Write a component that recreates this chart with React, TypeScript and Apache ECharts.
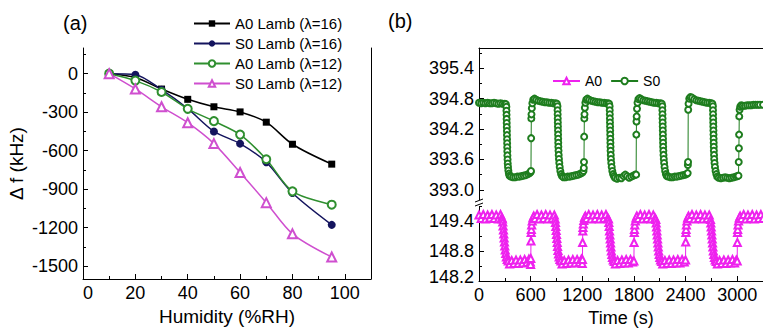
import React, { useEffect, useRef } from "react";
import * as echarts from "echarts";

// ---------- Panel (a) data ----------
const humidity = [10, 20, 30, 40, 50, 60, 70, 80, 95];
const a0Lamb16 = [0, -30, -120, -200, -258, -298, -378, -550, -705];
const s0Lamb16 = [0, -8, -125, -272, -450, -545, -690, -930, -1178];
const a0Lamb12 = [0, -54, -143, -274, -370, -475, -667, -917, -1021];
const s0Lamb12 = [0, -119, -258, -382, -545, -770, -1005, -1248, -1429];
const humidityTicks = [0, 20, 40, 60, 80, 100];
const humidityMinor = [10, 30, 50, 70, 90];
const dfTicks = [-1500, -1200, -900, -600, -300, 0];
const dfMinor = [-1350, -1050, -750, -450, -150, 150];

// ---------- Panel (b) data ----------
const timeTicks = [0, 600, 1200, 1800, 2400, 3000];
const timeMinor = [300, 900, 1500, 2100, 2700, 3300];
const upperTicks = [393.0, 393.6, 394.2, 394.8, 395.4];
const upperMinor = [393.3, 393.9, 394.5, 395.1, 395.7];
const lowerTicks = [148.2, 148.8, 149.4];
const lowerMinor = [148.5, 149.1, 149.7];

// A0 response (lower, magenta)
const a0Response: [number, number][] = [
  [0,149.52],[25,149.45],[50,149.53],[75,149.44],[100,149.52],[125,149.46],[150,149.53],[175,149.45],[200,149.52],[225,149.44],[250,149.53],[265,149.47],
  [272,149.44],[276,149.38],[280,149.3],[284,149.22],[288,149.14],[292,149.06],[296,148.98],[300,148.9],[305,148.82],[311,148.75],[318,148.68],[328,148.63],[340,148.6],
  [355,148.54],[380,148.61],[405,148.55],[430,148.62],[455,148.55],[480,148.62],[505,148.56],[530,148.63],[555,148.57],[580,148.64],[596,148.58],
  [600,148.53],[602,148.65],[604,149.0],[606,149.17],[608,149.23],[612,149.32],[618,149.4],[626,149.46],[636,149.5],
  [650,149.45],[675,149.53],[700,149.44],[725,149.52],[750,149.45],[775,149.53],[800,149.44],[825,149.52],[850,149.45],[875,149.52],
  [885,149.44],[889,149.37],[893,149.29],[897,149.21],[901,149.13],[905,149.05],[909,148.97],[913,148.89],[918,148.81],[924,148.74],[931,148.68],[940,148.63],[952,148.6],
  [965,148.54],[990,148.61],[1015,148.55],[1040,148.62],[1065,148.56],[1090,148.63],[1115,148.56],[1140,148.63],[1165,148.57],[1190,148.64],
  [1200,148.55],[1202,148.63],[1204,148.97],[1206,149.2],[1208,149.27],[1212,149.34],[1218,149.41],[1226,149.47],[1236,149.5],
  [1250,149.45],[1275,149.53],[1300,149.44],[1325,149.52],[1350,149.45],[1375,149.53],[1400,149.44],[1425,149.52],[1450,149.45],[1475,149.53],[1495,149.46],
  [1505,149.44],[1509,149.37],[1513,149.29],[1517,149.2],[1521,149.12],[1525,149.04],[1529,148.96],[1533,148.88],[1538,148.8],[1544,148.73],[1551,148.67],[1560,148.62],[1572,148.59],
  [1585,148.54],[1610,148.61],[1635,148.55],[1660,148.62],[1685,148.56],[1710,148.63],[1735,148.56],[1760,148.63],[1785,148.58],
  [1800,148.6],[1802,148.97],[1804,149.17],[1806,149.23],[1810,149.32],[1816,149.4],[1824,149.46],[1834,149.5],
  [1850,149.45],[1875,149.53],[1900,149.44],[1925,149.52],[1950,149.45],[1975,149.53],[2000,149.44],[2025,149.52],[2045,149.46],
  [2055,149.43],[2059,149.36],[2063,149.28],[2067,149.2],[2071,149.12],[2075,149.04],[2079,148.96],[2083,148.88],[2088,148.8],[2094,148.73],[2101,148.67],[2110,148.62],[2122,148.59],
  [2135,148.54],[2160,148.61],[2185,148.55],[2210,148.62],[2235,148.55],[2260,148.62],[2285,148.56],[2310,148.63],[2335,148.56],[2360,148.63],[2385,148.58],
  [2400,148.62],[2402,148.98],[2404,149.17],[2406,149.23],[2410,149.32],[2416,149.4],[2424,149.46],[2434,149.5],
  [2450,149.45],[2475,149.53],[2500,149.44],[2525,149.52],[2550,149.45],[2575,149.53],[2600,149.44],[2625,149.52],[2650,149.45],[2675,149.52],
  [2690,149.43],[2694,149.36],[2698,149.28],[2702,149.2],[2706,149.12],[2710,149.04],[2714,148.96],[2718,148.88],[2723,148.8],[2729,148.73],[2736,148.67],[2745,148.62],[2757,148.59],
  [2770,148.54],[2795,148.61],[2820,148.55],[2845,148.62],[2870,148.55],[2895,148.62],[2920,148.56],[2945,148.63],[2970,148.56],[2990,148.62],
  [3000,148.6],[3002,148.97],[3004,149.17],[3006,149.23],[3010,149.32],[3016,149.4],[3024,149.46],[3034,149.5],
  [3050,149.45],[3075,149.53],[3100,149.44],[3125,149.52],[3150,149.45],[3175,149.53],[3200,149.44],[3225,149.52],[3250,149.45],[3275,149.53],[3300,149.45],
];

// S0 response (upper, green)
const s0Response: [number, number][] = [
  [0,394.72],[25,394.71],[50,394.72],[75,394.71],[100,394.72],[125,394.71],[150,394.71],[175,394.72],[200,394.71],[225,394.7],[250,394.71],[275,394.7],[300,394.7],[312,394.69],
  [318,394.64],[319,394.56],[320,394.48],[321,394.4],[322,394.32],[323,394.24],[324,394.16],[325,394.08],[326,394.0],[327,393.92],[328,393.84],[329,393.76],[330,393.68],[332,393.6],[334,393.52],[337,393.45],[341,393.38],[347,393.32],[355,393.28],
  [370,393.26],[395,393.25],[420,393.25],[445,393.26],[470,393.26],[495,393.27],[520,393.28],[545,393.29],[570,393.31],[590,393.33],[600,393.35],
  [604,393.37],[606,394.02],[608,394.41],[610,394.49],[614,394.61],[620,394.71],[630,394.78],[645,394.8],
  [665,394.78],[690,394.76],[715,394.75],[740,394.74],[765,394.73],[790,394.73],[815,394.72],[840,394.72],[865,394.71],[890,394.71],[905,394.7],
  [912,394.65],[913,394.57],[914,394.49],[915,394.41],[916,394.33],[917,394.25],[918,394.17],[919,394.09],[920,394.01],[921,393.93],[922,393.85],[924,393.77],[926,393.69],[929,393.61],[933,393.53],[938,393.45],[945,393.37],[954,393.31],[964,393.27],
  [980,393.25],[1005,393.25],[1030,393.26],[1055,393.26],[1080,393.27],[1105,393.28],[1130,393.29],[1155,393.3],[1180,393.32],[1200,393.34],[1214,393.37],
  [1218,393.43],[1220,393.55],[1222,394.05],[1224,394.41],[1226,394.49],[1230,394.62],[1236,394.72],[1246,394.78],[1260,394.8],
  [1280,394.78],[1305,394.76],[1330,394.75],[1355,394.74],[1380,394.73],[1405,394.73],[1430,394.72],[1455,394.72],[1480,394.71],[1500,394.71],[1512,394.7],
  [1518,394.65],[1519,394.57],[1520,394.49],[1521,394.41],[1522,394.33],[1523,394.25],[1524,394.17],[1525,394.09],[1526,394.01],[1527,393.93],[1528,393.85],[1529,393.77],[1531,393.69],[1533,393.61],[1537,393.53],[1542,393.45],[1549,393.37],[1558,393.31],[1568,393.27],
  [1580,393.24],[1605,393.22],[1630,393.24],[1655,393.23],[1680,393.27],[1700,393.3],[1720,393.27],[1745,393.24],[1770,393.26],[1795,393.28],[1815,393.3],
  [1826,393.3],[1828,394.09],[1830,394.35],[1832,394.45],[1836,394.6],[1842,394.72],[1852,394.79],[1866,394.81],
  [1885,394.79],[1910,394.77],[1935,394.76],[1960,394.75],[1985,394.74],[2010,394.73],[2035,394.72],[2060,394.72],[2085,394.71],[2110,394.71],[2124,394.7],
  [2130,394.65],[2131,394.57],[2132,394.49],[2133,394.41],[2134,394.33],[2135,394.25],[2136,394.17],[2137,394.09],[2138,394.01],[2139,393.93],[2140,393.85],[2142,393.77],[2144,393.69],[2147,393.61],[2151,393.53],[2156,393.45],[2163,393.37],[2172,393.31],[2182,393.27],
  [2200,393.26],[2225,393.25],[2250,393.25],[2275,393.26],[2300,393.26],[2325,393.27],[2350,393.28],[2375,393.29],[2400,393.3],[2418,393.32],
  [2425,393.33],[2427,393.49],[2429,393.55],[2431,394.58],[2435,394.7],[2443,394.8],[2455,394.83],
  [2475,394.82],[2500,394.79],[2525,394.77],[2550,394.76],[2575,394.75],[2600,394.74],[2625,394.73],[2650,394.72],[2675,394.72],[2700,394.71],[2712,394.7],
  [2718,394.65],[2719,394.57],[2720,394.49],[2721,394.41],[2722,394.33],[2723,394.25],[2724,394.17],[2725,394.09],[2726,394.01],[2727,393.93],[2728,393.85],[2729,393.77],[2731,393.69],[2733,393.61],[2737,393.53],[2742,393.45],[2749,393.37],[2758,393.31],[2768,393.26],
  [2785,393.24],[2810,393.23],[2835,393.24],[2860,393.25],[2885,393.24],[2910,393.23],[2935,393.24],[2960,393.25],[2985,393.26],[3005,393.27],[3015,393.28],
  [3018,393.55],[3020,393.82],[3022,394.09],[3024,394.45],[3028,394.58],[3035,394.64],[3047,394.67],
  [3065,394.66],[3090,394.66],[3115,394.67],[3140,394.67],[3165,394.67],[3190,394.68],[3215,394.68],[3240,394.68],[3265,394.68],[3300,394.68],
];

const FONT = "'Liberation Sans', Arial, Helvetica, sans-serif";
const BLACK = "#000";
const TICK_FONT = 18;

const tickStyle = { color: BLACK, width: 1 };

function labelAxisX(gridIndex: number, min: number, max: number, ticks: number[], fmt: any, extra: any = {}) {
  return {
    type: "value",
    gridIndex,
    min,
    max,
    position: "bottom",
    axisLine: { show: true, onZero: false, lineStyle: { color: BLACK, width: 1 } },
    axisTick: { show: true, inside: true, length: 5, customValues: ticks, lineStyle: tickStyle },
    axisLabel: {
      show: true, customValues: ticks, color: BLACK, fontSize: TICK_FONT, fontFamily: FONT, margin: 5,
      formatter: fmt,
      rich: { sh: { fontSize: TICK_FONT, fontFamily: FONT, color: BLACK, padding: [0, 0, 0, 10] } },
    },
    splitLine: { show: false },
    ...extra,
  };
}

function minorAxis(gridIndex: number, min: number, max: number, ticks: number[], position: string) {
  return {
    type: "value",
    gridIndex,
    min,
    max,
    position,
    axisLine: { show: false, onZero: false },
    axisTick: { show: true, inside: true, length: 3, customValues: ticks, lineStyle: tickStyle },
    axisLabel: { show: false },
    splitLine: { show: false },
  };
}

function labelAxisY(gridIndex: number, min: number, max: number, ticks: number[], fmt: (v: number) => string, extra: any = {}) {
  return {
    type: "value",
    gridIndex,
    min,
    max,
    position: "left",
    axisLine: { show: true, onZero: false, lineStyle: { color: BLACK, width: 1 } },
    axisTick: { show: true, inside: true, length: 5, customValues: ticks, lineStyle: tickStyle },
    axisLabel: {
      show: true, customValues: ticks, color: BLACK, fontSize: TICK_FONT, fontFamily: FONT, margin: 5, formatter: fmt,
      rich: { lo: { fontSize: TICK_FONT, fontFamily: FONT, color: BLACK, padding: [0, 0, 8, 0] } },
    },
    splitLine: { show: false },
    ...extra,
  };
}

function frameAxis(gridIndex: number, min: number, max: number, position: string) {
  return {
    type: "value",
    gridIndex,
    min,
    max,
    position,
    axisLine: { show: true, onZero: false, lineStyle: { color: BLACK, width: 1 } },
    axisTick: { show: false },
    axisLabel: { show: false },
    splitLine: { show: false },
  };
}

const toPairs = (xs: number[], ys: number[]) => xs.map((x, i) => [x, ys[i]]);

const option: any = {
  animation: false,
  backgroundColor: "#fff",
  textStyle: { fontFamily: FONT },
  title: [
    { text: "(a)", left: 63, top: 13, padding: 0, textStyle: { fontSize: 20, fontWeight: "normal", color: BLACK, fontFamily: FONT } },
    { text: "(b)", left: 388, top: 11, padding: 0, textStyle: { fontSize: 20, fontWeight: "normal", color: BLACK, fontFamily: FONT } },
  ],
  grid: [
    { left: 83, top: 48, width: 288, height: 233 },
    { left: 479, top: 48, width: 291, height: 155 },
    { left: 479, top: 203, width: 291, height: 78 },
  ],
  legend: [
    {
      orient: "vertical",
      left: 193,
      top: 16,
      padding: 0,
      itemGap: 5,
      itemWidth: 36,
      itemHeight: 8,
      textStyle: { fontSize: 15, color: BLACK, fontFamily: FONT },
      data: ["A0 Lamb (λ=16)", "S0 Lamb (λ=16)", "A0 Lamb (λ=12)", "S0 Lamb (λ=12)"],
    },
    {
      orient: "horizontal",
      left: 552,
      top: 74,
      padding: 0,
      itemGap: 8,
      itemWidth: 27,
      itemHeight: 8,
      textStyle: { fontSize: 14, color: BLACK, fontFamily: FONT },
      data: ["A0", "S0"],
    },
  ],
  xAxis: [
    labelAxisX(0, 0, 110, humidityTicks, (v: number) => (v === 0 ? "{sh|0}" : String(v)), {
      name: "Humidity (%RH)",
      nameLocation: "middle",
      nameGap: 28,
      nameTextStyle: { fontSize: 19, color: BLACK, fontFamily: FONT },
    }),
    minorAxis(0, 0, 110, humidityMinor, "bottom"),
    frameAxis(1, 0, 3300, "top"),
    labelAxisX(2, 0, 3300, timeTicks, (v: number) => String(v), {
      name: "Time (s)",
      nameLocation: "middle",
      nameGap: 28,
      nameTextStyle: { fontSize: 18, color: BLACK, fontFamily: FONT },
    }),
    minorAxis(2, 0, 3300, timeMinor, "bottom"),
  ],
  yAxis: [
    labelAxisY(0, -1600, 200, dfTicks, (v: number) => String(v), {
      name: "Δ f (kHz)",
      nameLocation: "middle",
      nameGap: 57,
      nameTextStyle: { fontSize: 19, color: BLACK, fontFamily: FONT },
    }),
    minorAxis(0, -1600, 200, dfMinor, "left"),
    frameAxis(0, -1600, 200, "right"),
    labelAxisY(1, 392.74, 395.8, upperTicks, (v: number) => v.toFixed(1)),
    minorAxis(1, 392.74, 395.8, upperMinor, "left"),
    labelAxisY(2, 148.2, 149.76, lowerTicks, (v: number) => (Math.abs(v - 148.2) < 1e-6 ? "{lo|148.2}" : v.toFixed(1))),
    minorAxis(2, 148.2, 149.76, lowerMinor, "left"),
  ],
  graphic: [
    { type: "rect", shape: { x: 474, y: 200, width: 10, height: 6 }, style: { fill: "#fff" }, z: 100 },
    { type: "line", shape: { x1: 475, y1: 202, x2: 483, y2: 199 }, style: { stroke: BLACK, lineWidth: 1 }, z: 101 },
    { type: "line", shape: { x1: 475, y1: 206, x2: 483, y2: 203 }, style: { stroke: BLACK, lineWidth: 1 }, z: 101 },
  ],
  series: [
    {
      name: "A0 Lamb (λ=16)", type: "line", xAxisIndex: 0, yAxisIndex: 0, smooth: 0.3,
      data: toPairs(humidity, a0Lamb16), symbol: "rect", symbolSize: 7,
      lineStyle: { color: "#000000", width: 1.5 }, itemStyle: { color: "#000000" },
    },
    {
      name: "S0 Lamb (λ=16)", type: "line", xAxisIndex: 0, yAxisIndex: 0, smooth: 0.3,
      data: toPairs(humidity, s0Lamb16), symbol: "circle", symbolSize: 8,
      lineStyle: { color: "#14145e", width: 1.5 }, itemStyle: { color: "#14145e" },
    },
    {
      name: "A0 Lamb (λ=12)", type: "line", xAxisIndex: 0, yAxisIndex: 0, smooth: 0.3,
      data: toPairs(humidity, a0Lamb12), symbol: "emptyCircle", symbolSize: 8,
      lineStyle: { color: "#2f8f2f", width: 1.5 }, itemStyle: { color: "#2f8f2f", borderWidth: 1.5 },
    },
    {
      name: "S0 Lamb (λ=12)", type: "line", xAxisIndex: 0, yAxisIndex: 0, smooth: 0.3,
      data: toPairs(humidity, s0Lamb12), symbol: "emptyTriangle", symbolSize: 9,
      lineStyle: { color: "#cf4fcf", width: 1.5 }, itemStyle: { color: "#cf4fcf", borderWidth: 1.5 },
    },
    {
      name: "A0", type: "line", xAxisIndex: 3, yAxisIndex: 5,
      data: a0Response, symbol: "emptyTriangle", symbolSize: 7,
      lineStyle: { color: "#ee22ee", width: 1 }, itemStyle: { color: "#ee22ee", borderWidth: 1 },
    },
    {
      name: "S0", type: "line", xAxisIndex: 2, yAxisIndex: 3,
      data: s0Response, symbol: "emptyCircle", symbolSize: 6,
      lineStyle: { color: "#1e7d1e", width: 1 }, itemStyle: { color: "#1e7d1e", borderWidth: 1 },
    },
  ],
};

export default function App() {
  const ref = useRef<HTMLDivElement>(null);
  useEffect(() => {
    if (!ref.current) return;
    const chart = echarts.init(ref.current, null, { renderer: "svg" });
    chart.setOption(option);
    return () => chart.dispose();
  }, []);
  return (
    <div
      ref={ref}
      style={{ position: "absolute", left: 0, top: 0, width: 763, height: 331, background: "#fff" }}
    />
  );
}
